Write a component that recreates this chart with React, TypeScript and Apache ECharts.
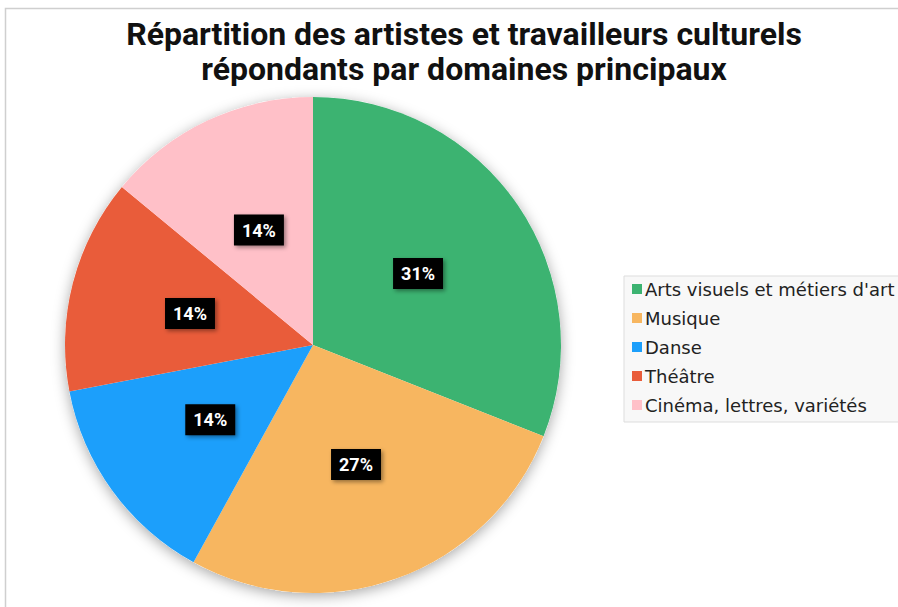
import React, { useEffect, useRef } from "react";
import * as echarts from "echarts";

const titleLines = [
  "Répartition des artistes et travailleurs culturels",
  "répondants par domaines principaux",
];
const categories = [
  "Arts visuels et métiers d'art",
  "Musique",
  "Danse",
  "Théâtre",
  "Cinéma, lettres, variétés",
];
const shares = [31, 27, 14, 14, 14];
const colors = ["#3cb371", "#f7b660", "#1c9ffb", "#e95c3a", "#ffc0c8"];

export default function App() {
  const ref = useRef<HTMLDivElement>(null);
  useEffect(() => {
    if (!ref.current) return;
    const chart = echarts.init(ref.current, undefined, { renderer: "svg" });
    const center = [313, 345];
    const radius = 248;
    chart.setOption({
      animation: false,
      backgroundColor: "#ffffff",
      title: {
        text: titleLines.join("\n"),
        left: 459,
        top: 11,
        textAlign: "center",
        textStyle: {
          fontFamily: "Roboto",
          fontWeight: "bold",
          fontSize: 32,
          lineHeight: 35,
          color: "#111111",
        },
      },
      graphic: [
        {
          type: "rect",
          shape: { x: 5.5, y: 8.5, width: 1000, height: 700 },
          style: { fill: "none", stroke: "#cfcfcf", lineWidth: 1.5 },
          silent: true,
          z: -10,
        },
      ],
      legend: {
        orient: "vertical",
        left: 624,
        top: 276,
        data: categories,
        icon: "rect",
        itemWidth: 10,
        itemHeight: 10,
        itemGap: 11,
        padding: [4, 8, 8, 8],
        backgroundColor: "#f8f8f8",
        borderColor: "#dddddd",
        borderWidth: 1,
        textStyle: {
          fontFamily: "DejaVu Sans",
          fontSize: 18,
          color: "#222222",
          padding: [0, 0, 0, -2],
        },
      },
      series: [
        {
          type: "pie",
          center,
          radius,
          silent: true,
          z: 1,
          label: { show: false },
          labelLine: { show: false },
          data: [
            {
              value: 1,
              name: "__shadow",
              itemStyle: {
                color: "#ffffff",
                shadowBlur: 14,
                shadowColor: "rgba(0,0,0,0.35)",
                shadowOffsetY: 3,
              },
            },
          ],
        },
        {
          type: "pie",
          center,
          radius,
          startAngle: 90,
          clockwise: true,
          z: 2,
          itemStyle: { borderWidth: 0 },
          label: {
            show: true,
            position: "inside",
            formatter: (p: any) => `${p.value}%`,
            color: "#ffffff",
            fontFamily: "Roboto",
            fontWeight: "bold",
            fontSize: 18,
            backgroundColor: "#000000",
            padding: [7, 8, 6, 8],
            shadowBlur: 4,
            shadowColor: "rgba(0,0,0,0.4)",
            shadowOffsetX: 2,
            shadowOffsetY: 2,
          },
          labelLine: { show: false },
          emphasis: { disabled: true },
          data: categories.map((name, i) => ({
            name,
            value: shares[i],
            itemStyle: { color: colors[i] },
          })),
        },
      ],
    });
    return () => chart.dispose();
  }, []);
  return (
    <div
      ref={ref}
      style={{ position: "fixed", left: 0, top: 0, width: 898, height: 607 }}
    />
  );
}
